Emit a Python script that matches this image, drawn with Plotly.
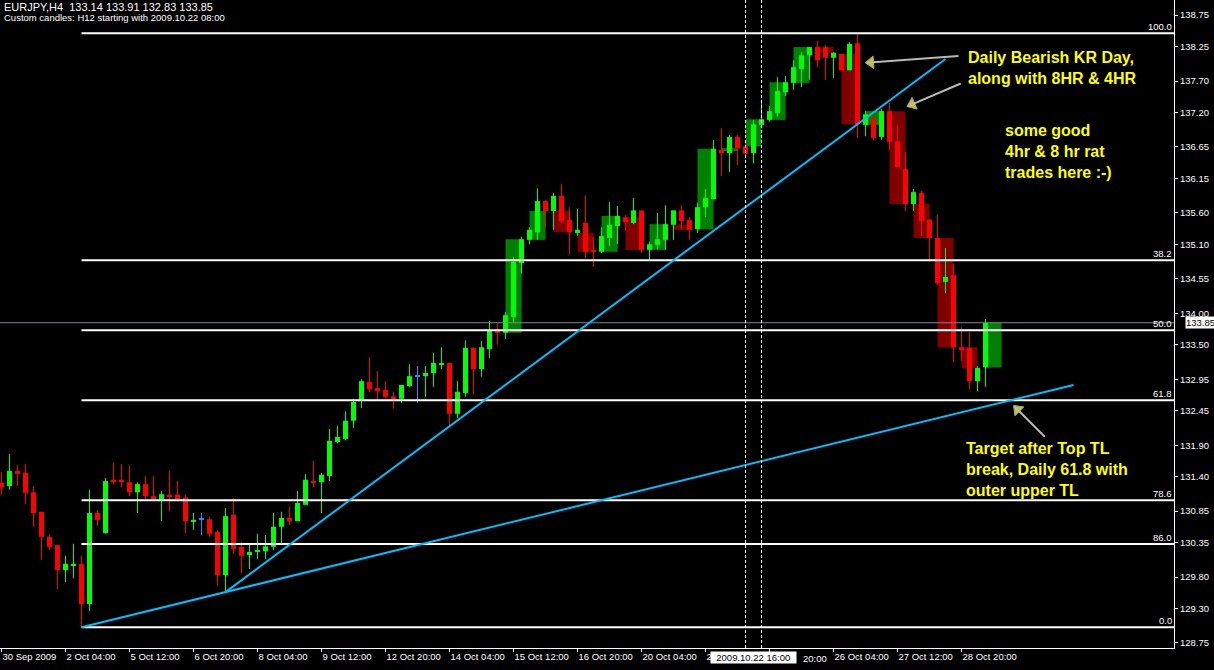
import numpy as np
import plotly.graph_objects as go

# ---------------- data: EURJPY H4, bar 0 = 30 Sep 2009 20:00 ----------------
opens = [131.30, 131.25, 131.49, 131.46, 131.15, 130.84, 130.44, 130.31, 129.91, 129.98,
         130.01, 129.37, 130.82, 130.50, 131.35, 131.35, 131.31, 131.15, 131.28, 131.09,
         131.04, 131.11, 131.11, 131.07, 130.69, 130.72, 130.72, 130.52, 129.83, 130.79,
         130.28, 130.15, 130.20, 130.21, 130.28, 130.60, 130.74, 130.69, 130.95, 131.33,
         131.31, 131.41, 131.95, 132.00, 132.29, 132.62, 132.91, 132.81, 132.78, 132.68,
         132.64, 132.84, 133.00, 133.00, 133.05, 133.19, 133.21, 132.40, 132.73, 133.45,
         133.11, 133.43, 133.72, 133.69, 133.94, 134.80, 135.17, 135.29, 135.79, 135.63,
         135.87, 135.49, 135.28, 135.44, 134.99, 134.98, 135.20, 135.39, 135.53, 135.44,
         135.64, 135.01, 135.09, 135.17, 135.41, 135.64, 135.49, 135.34, 135.69, 135.82,
         136.60, 136.55, 136.81, 136.66, 136.55, 137.00, 137.08, 137.19, 137.52, 137.67,
         137.89, 138.11, 138.24, 138.24, 138.07, 138.13, 137.87, 138.30, 137.00, 137.11,
         136.81, 137.22, 136.74, 136.30, 135.74, 135.92, 135.49, 135.20, 134.50, 134.61,
         133.46, 133.45, 132.92, 133.14]
highs = [131.47, 131.76, 131.58, 131.60, 131.25, 130.84, 130.47, 130.31, 130.14, 130.33,
         130.14, 131.19, 130.87, 131.38, 131.62, 131.60, 131.58, 131.31, 131.41, 131.41,
         131.17, 131.49, 131.33, 131.11, 130.82, 130.82, 130.76, 130.55, 130.90, 131.06,
         130.36, 130.31, 130.49, 130.47, 130.82, 130.84, 130.92, 131.17, 131.44, 131.65,
         131.46, 132.16, 132.21, 132.44, 132.64, 132.95, 133.30, 133.08, 132.92, 132.75,
         132.86, 133.19, 133.16, 133.16, 133.37, 133.46, 133.21, 132.92, 133.57, 133.46,
         133.56, 133.88, 133.85, 134.02, 134.90, 135.22, 135.37, 135.99, 135.80, 135.92,
         136.06, 135.69, 135.66, 135.88, 135.22, 135.37, 135.77, 135.71, 135.57, 135.84,
         135.64, 135.14, 135.60, 135.72, 135.64, 135.72, 135.53, 135.76, 135.98, 136.76,
         136.95, 136.84, 136.84, 136.71, 137.08, 137.40, 137.30, 137.76, 137.78, 138.03,
         138.16, 138.24, 138.34, 138.27, 138.16, 138.13, 138.32, 138.46, 137.22, 137.17,
         137.25, 137.35, 137.00, 136.57, 135.98, 135.95, 135.50, 135.57, 135.04, 134.79,
         133.78, 133.70, 133.16, 133.91]
lows = [131.11, 131.19, 131.25, 130.96, 130.60, 130.07, 130.23, 129.61, 129.72, 129.78,
        129.00, 129.26, 130.61, 130.49, 131.28, 131.23, 131.09, 130.82, 131.04, 131.04,
        130.69, 130.85, 131.00, 130.50, 130.55, 130.47, 130.44, 129.67, 129.56, 130.17,
        129.86, 129.93, 130.09, 130.09, 130.23, 130.34, 130.63, 130.69, 130.95, 131.23,
        130.82, 131.33, 131.93, 131.98, 132.17, 132.49, 132.75, 132.62, 132.65, 132.48,
        132.57, 132.83, 132.57, 132.67, 132.83, 133.11, 132.22, 132.33, 132.67, 132.71,
        132.99, 133.29, 133.50, 133.59, 133.86, 134.63, 135.10, 135.17, 135.37, 135.33,
        135.44, 134.94, 135.23, 134.88, 134.74, 134.96, 135.07, 135.10, 135.31, 135.42,
        134.96, 134.85, 135.02, 135.01, 135.17, 135.33, 135.17, 135.28, 135.53, 135.82,
        136.19, 136.25, 136.36, 136.52, 136.39, 136.98, 137.05, 137.13, 137.46, 137.56,
        137.60, 137.72, 137.92, 137.72, 137.75, 137.87, 137.87, 136.79, 136.82, 136.76,
        136.76, 136.60, 136.33, 135.63, 135.63, 135.23, 134.82, 134.45, 134.32, 133.22,
        133.24, 132.79, 132.76, 132.83]
closes = [131.23, 131.49, 131.44, 131.14, 130.82, 130.44, 130.28, 129.91, 130.01, 130.01,
          129.37, 130.82, 130.71, 131.33, 131.31, 131.31, 131.15, 131.28, 131.09, 131.04,
          131.12, 131.09, 131.04, 130.69, 130.71, 130.72, 130.49, 129.83, 130.77, 130.25,
          130.14, 130.20, 130.21, 130.29, 130.60, 130.74, 130.69, 130.98, 131.35, 131.31,
          131.43, 131.97, 132.03, 132.29, 132.59, 132.92, 132.79, 132.76, 132.67, 132.65,
          132.86, 133.00, 133.00, 133.05, 133.21, 133.21, 132.40, 132.75, 133.45, 133.11,
          133.46, 133.72, 133.69, 133.97, 134.82, 135.18, 135.33, 135.79, 135.63, 135.87,
          135.47, 135.29, 135.33, 134.98, 134.98, 135.23, 135.41, 135.55, 135.45, 135.64,
          135.01, 135.10, 135.18, 135.42, 135.64, 135.47, 135.33, 135.69, 135.84, 136.62,
          136.55, 136.81, 136.63, 136.54, 137.01, 137.09, 137.22, 137.54, 137.68, 137.92,
          138.11, 138.24, 138.03, 138.07, 138.15, 137.87, 138.29, 137.01, 137.17, 136.79,
          137.22, 136.73, 136.33, 135.74, 135.93, 135.47, 135.20, 134.48, 134.58, 133.46,
          133.43, 132.92, 133.13, 133.85]

x_tick_index = [0, 8, 16, 24, 32, 40, 48, 56, 64, 72, 80, 88, 96, 104, 112, 120]
# labels at bars 88 and 96 are mostly hidden by the crosshair time box
x_tick_labels = ["30 Sep 2009", "2 Oct 04:00", "5 Oct 12:00", "6 Oct 20:00", "8 Oct 04:00",
                 "9 Oct 12:00", "12 Oct 20:00", "14 Oct 04:00", "15 Oct 12:00", "16 Oct 20:00",
                 "20 Oct 04:00", "2", "", "26 Oct 04:00", "27 Oct 12:00", "28 Oct 20:00"]
hidden_label_tail = "20:00"
y_ticks = [138.75, 138.25, 137.70, 137.20, 136.65, 136.15, 135.60, 135.10, 134.55, 134.00,
           133.50, 132.95, 132.45, 131.90, 131.40, 130.85, 130.35, 129.80, 129.30, 128.75]

# custom H12 candles (3 x H4), drawn from bar 63 onward
h12_first_bar = 63
h12_group = 3

# Fibonacci drawn from the 2 Oct low to the 26 Oct high
fib_low, fib_low_bar = 129.00, 10
fib_high = 138.46
fib_ratios = [0.0, 0.382, 0.5, 0.618, 0.786, 0.86, 1.0]
fib_labels = ["100.0", "38.2", "50.0", "61.8", "78.6", "86.0", "0.0"]

# trendlines (bar index, price)
tl_outer_x, tl_outer_y = [10, 134], [129.00, 132.86]
tl_inner_x, tl_inner_y = [28, 118], [129.56, 138.05]

# arrows (tail -> head), bar index / price
arrow_tail_x = [119.8, 120.1, 130.6]
arrow_tail_y = [138.10, 137.67, 132.01]
arrow_head_x = [108.1, 113.3, 126.6]
arrow_head_y = [137.99, 137.30, 132.52]

bid_price = 133.85
separator_bars = [93, 95]
crosshair_label = "2009.10.22 16:00"

# ---------------- styling ----------------
UP, DN, DOJI = "#00ff00", "#ff0000", "#1e90ff"
BOX_UP, BOX_DN = "#008000", "#800000"
TL_COLOR = "#00bfff"
FONT = "Liberation Sans"
PX_PER_BAR, PX_PER_YEN = 8.0, 62.8

o, h, l, c = map(np.array, (opens, highs, lows, closes))
idx = np.arange(len(o))
cols = np.where(c > o, UP, np.where(c < o, DN, DOJI))

x_min, x_max = -0.1875, 146.5625
y_min, y_max = 128.67, 138.99

fig = go.Figure()

# bid line
fig.add_trace(go.Scatter(x=[x_min, x_max], y=[bid_price, bid_price], mode="lines",
                         line=dict(color="#778899", width=1), hoverinfo="skip"))

# H12 boxes
bx, bbase, bh, bcol = [], [], [], []
for s in range(h12_first_bar, len(o), h12_group):
    e = min(s + h12_group - 1, len(o) - 1)
    bo, bc = o[s], c[e]
    bx.append(s + 1)
    bbase.append(min(bo, bc))
    bh.append(max(abs(bc - bo), 0.016))
    bcol.append(BOX_UP if bc > bo else BOX_DN)
fig.add_trace(go.Bar(x=bx, y=bh, base=bbase, width=2.0, marker=dict(color=bcol, line=dict(width=0)),
                     hoverinfo="skip"))

# wicks
for colr in (UP, DN, DOJI):
    xs, ys = [], []
    for i in idx[cols == colr]:
        xs += [i, i, None]
        ys += [l[i], h[i], None]
    fig.add_trace(go.Scatter(x=xs, y=ys, mode="lines", line=dict(color=colr, width=1),
                             hoverinfo="skip"))

# bodies
fig.add_trace(go.Bar(x=idx, y=np.maximum(np.abs(c - o), 0.016), base=np.minimum(o, c), width=0.625,
                     marker=dict(color=list(cols), line=dict(width=0)), hoverinfo="skip"))

# fib levels
annotations = []
for r, lab in zip(fib_ratios, fib_labels):
    lvl = fib_high - r * (fib_high - fib_low)
    fig.add_trace(go.Scatter(x=[fib_low_bar, x_max], y=[lvl, lvl], mode="lines",
                             line=dict(color="white", width=2), hoverinfo="skip"))
    annotations.append(dict(xref="paper", yref="y", x=1.0, y=lvl, text=lab, showarrow=False,
                            xanchor="right", yanchor="bottom", yshift=-1,
                            font=dict(color="white", size=9.5, family=FONT)))

# trendlines
for tx, ty in ((tl_outer_x, tl_outer_y), (tl_inner_x, tl_inner_y)):
    fig.add_trace(go.Scatter(x=tx, y=ty, mode="lines", line=dict(color=TL_COLOR, width=2),
                             hoverinfo="skip"))

# arrows: gray shaft + olive triangle head
mx, my, mang = [], [], []
for tx, ty, hx, hy in zip(arrow_tail_x, arrow_tail_y, arrow_head_x, arrow_head_y):
    annotations.append(dict(xref="x", yref="y", axref="x", ayref="y", x=hx, y=hy, ax=tx, ay=ty,
                            text="", showarrow=True, arrowhead=0, arrowwidth=2,
                            arrowcolor="#b8b8b8", standoff=0))
    dxp = (hx - tx) * PX_PER_BAR
    dyp = -(hy - ty) * PX_PER_YEN
    theta = np.arctan2(dyp, dxp)
    mx.append(hx - np.cos(theta) * 4.5 / PX_PER_BAR)
    my.append(hy + np.sin(theta) * 4.5 / PX_PER_YEN)
    mang.append(float(np.degrees(theta) - 180.0))
fig.add_trace(go.Scatter(x=mx, y=my, mode="markers", hoverinfo="skip",
                         marker=dict(symbol="triangle-left", size=11, angle=mang, color="#c8c800",
                                     line=dict(color="#a0a0a0", width=1))))

shapes = [dict(type="line", xref="x", yref="paper", x0=b, x1=b, y0=0, y1=1,
               line=dict(color="white", width=1, dash="3px,2px")) for b in separator_bars]

# texts
yellow = dict(color="#ffff00", size=16, family=FONT, weight="bold")
annotations += [
    dict(xref="paper", yref="paper", x=0.0, y=1.0, xanchor="left", yanchor="top", yshift=1, xshift=2,
         text="EURJPY,H4  133.14 133.91 132.83 133.85", showarrow=False,
         font=dict(color="white", size=11, family=FONT)),
    dict(xref="paper", yref="paper", x=0.0, y=1.0, xanchor="left", yanchor="top", yshift=-10, xshift=2,
         text="Custom candles: H12 starting with 2009.10.22 08:00", showarrow=False,
         font=dict(color="white", size=9.5, family=FONT)),
    dict(xref="x", yref="y", x=120.6, y=137.91, xanchor="left", yanchor="middle", align="left",
         text="Daily Bearish KR Day,<br>along with 8HR & 4HR", showarrow=False, font=yellow),
    dict(xref="x", yref="y", x=125.2, y=136.57, xanchor="left", yanchor="middle", align="left",
         text="some good<br>4hr & 8 hr rat<br>trades here :-)", showarrow=False, font=yellow),
    dict(xref="x", yref="y", x=120.3, y=131.51, xanchor="left", yanchor="middle", align="left",
         text="Target after Top TL<br>break, Daily 61.8 with<br>outer upper TL", showarrow=False,
         font=yellow),
    # bid price box
    dict(xref="paper", yref="y", x=1.0, y=bid_price, xanchor="left", yanchor="middle", xshift=11,
         text=f"{bid_price:.2f}", showarrow=False, bgcolor="white", borderpad=0,
         font=dict(color="black", size=9.5, family=FONT)),
    # crosshair time box
    dict(xref="x", yref="paper", x=88.5, y=0, xanchor="left", yanchor="top", yshift=-3,
         text="&nbsp;&nbsp;" + crosshair_label + "&nbsp;&nbsp;", showarrow=False, bgcolor="white",
         borderpad=0, font=dict(color="black", size=9.5, family=FONT)),
    # visible tail of the hidden 22 Oct 20:00 label
    dict(xref="x", yref="paper", x=99.9, y=0, xanchor="left", yanchor="top", yshift=-3,
         text=hidden_label_tail, showarrow=False,
         font=dict(color="white", size=9.5, family=FONT)),
]

fig.update_layout(
    width=1214, height=670, margin=dict(l=0, r=40, t=0, b=22),
    paper_bgcolor="black", plot_bgcolor="black", showlegend=False, barmode="overlay",
    hovermode=False,
    xaxis=dict(range=[x_min, x_max], tickvals=x_tick_index, ticktext=x_tick_labels,
               ticks="outside", ticklen=3, tickcolor="white", ticklabelposition="outside right",
               showline=True, linecolor="white", linewidth=1, showgrid=False, zeroline=False,
               tickfont=dict(color="white", size=9.5, family=FONT)),
    yaxis=dict(range=[y_min, y_max], side="right", tickvals=y_ticks,
               ticktext=[f"{v:.2f}" for v in y_ticks], ticks="outside", ticklen=3, tickcolor="white",
               showline=True, linecolor="white", linewidth=1, showgrid=False, zeroline=False,
               tickfont=dict(color="white", size=9.5, family=FONT)),
    shapes=shapes, annotations=annotations,
)

fig.write_html("out.html", config={"displayModeBar": False},
               post_script="document.body.style.margin='0';")
